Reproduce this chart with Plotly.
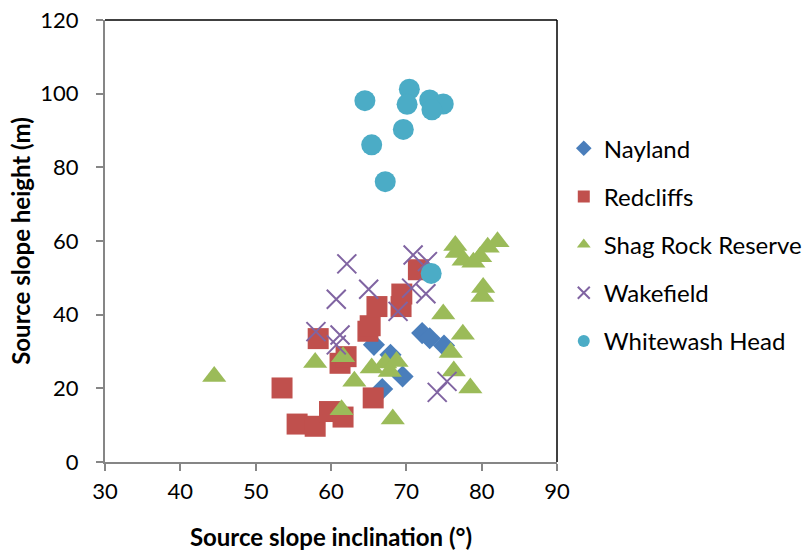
import plotly.graph_objects as go

# Data
nayland_x = [65.7, 67.9, 69.5, 66.8, 72.1, 73.1, 75.0]
nayland_y = [31.8, 29.1, 23.2, 19.8, 35.0, 33.6, 31.6]

redcliffs_x = [53.5, 55.5, 57.9, 59.8, 61.6, 58.3, 61.2, 62.0, 64.9, 65.2, 66.1, 69.4, 69.3, 71.6, 65.6]
redcliffs_y = [20.1, 10.3, 9.7, 13.7, 12.2, 33.5, 26.8, 28.6, 35.5, 37.0, 42.2, 45.6, 42.2, 52.2, 17.4]

shag_x = [44.5, 57.9, 61.6, 63.1, 61.4, 65.4, 67.2, 68.7, 67.8, 68.2, 74.9, 77.5, 75.9, 76.3, 78.5,
          80.2, 80.1, 76.5, 76.7, 77.6, 78.9, 79.8, 80.8, 82.1]
shag_y = [23.2, 27.0, 28.6, 21.9, 14.2, 25.5, 26.9, 27.3, 24.6, 11.7, 40.2, 34.7, 29.7, 24.7, 20.1,
          47.4, 44.9, 58.8, 56.9, 54.8, 54.2, 55.7, 58.3, 59.8]

wakefield_x = [62.1, 70.9, 72.8, 65.0, 60.7, 70.7, 72.6, 68.9, 58.0, 61.2, 60.7, 75.4, 74.1]
wakefield_y = [53.8, 56.2, 54.4, 46.9, 44.2, 47.2, 45.7, 40.9, 35.4, 34.5, 31.8, 21.9, 18.9]

whitewash_x = [64.5, 70.4, 70.1, 73.1, 74.9, 73.4, 69.6, 65.4, 67.2, 73.3]
whitewash_y = [98.1, 101.2, 97.1, 98.3, 97.2, 95.6, 90.3, 86.1, 76.1, 51.2]

FONT = "Lato"

fig = go.Figure()

series = [
    ("Nayland", nayland_x, nayland_y, "diamond", "#4A7EBB", 17),
    ("Redcliffs", redcliffs_x, redcliffs_y, "square", "#C0504D", 21),
    ("Shag Rock Reserve", shag_x, shag_y, "triangle-up", "#9BBB59", 21),
    ("Wakefield", wakefield_x, wakefield_y, "x-thin", "#8064A2", 19),
    ("Whitewash Head", whitewash_x, whitewash_y, "circle", "#4BACC6", 21),
]

for i, (name, xs, ys, sym, col, sz) in enumerate(series):
    if sym == "x-thin":
        marker = dict(symbol=sym, size=sz, color=col, line=dict(color=col, width=2))
    else:
        marker = dict(symbol=sym, size=sz, color=col, line=dict(width=0))
    fig.add_trace(go.Scatter(x=xs, y=ys, mode="markers", name=name, marker=marker,
                             legendgroup=f"g{i}"))

fig.update_layout(
    width=806, height=552,
    margin=dict(l=105, r=249, t=20, b=90, autoexpand=False),
    paper_bgcolor="white", plot_bgcolor="white",
    font=dict(family=FONT, color="black"),
    legend=dict(x=1.015, y=0.76, xanchor="left", yanchor="top",
                font=dict(size=24, family=FONT), tracegroupgap=14,
                itemsizing="constant", bgcolor="rgba(0,0,0,0)"),
    xaxis=dict(range=[30, 90], dtick=10, tick0=30, showgrid=False, zeroline=False,
               automargin=False,
               showline=True, linecolor="#868686", linewidth=2,
               ticks="outside", ticklen=7, tickwidth=1.5, tickcolor="#868686",
               tickfont=dict(size=22, family=FONT), ticklabelstandoff=2,
               title=dict(text="<b>Source slope inclination (°)</b>", font=dict(size=24, family=FONT), standoff=26)),
    yaxis=dict(range=[0, 120], dtick=20, showgrid=False, zeroline=False,
               automargin=False,
               showline=True, linecolor="#868686", linewidth=2,
               ticks="outside", ticklen=7, tickwidth=1.5, tickcolor="#868686",
               tickfont=dict(size=22, family=FONT), ticklabelstandoff=13,
               title=dict(text="<b>Source slope height (m)</b>", font=dict(size=24, family=FONT), standoff=3)),
)

# top and right plot border in black
fig.add_shape(type="line", xref="paper", yref="paper", x0=0, x1=1, y0=1, y1=1,
              line=dict(color="black", width=1.5))
fig.add_shape(type="line", xref="paper", yref="paper", x0=1, x1=1, y0=0, y1=1,
              line=dict(color="black", width=1.5))

fig.write_html("out.html", config={"displayModeBar": False},
               post_script="document.body.style.margin='0px';document.body.style.overflow='hidden';")
